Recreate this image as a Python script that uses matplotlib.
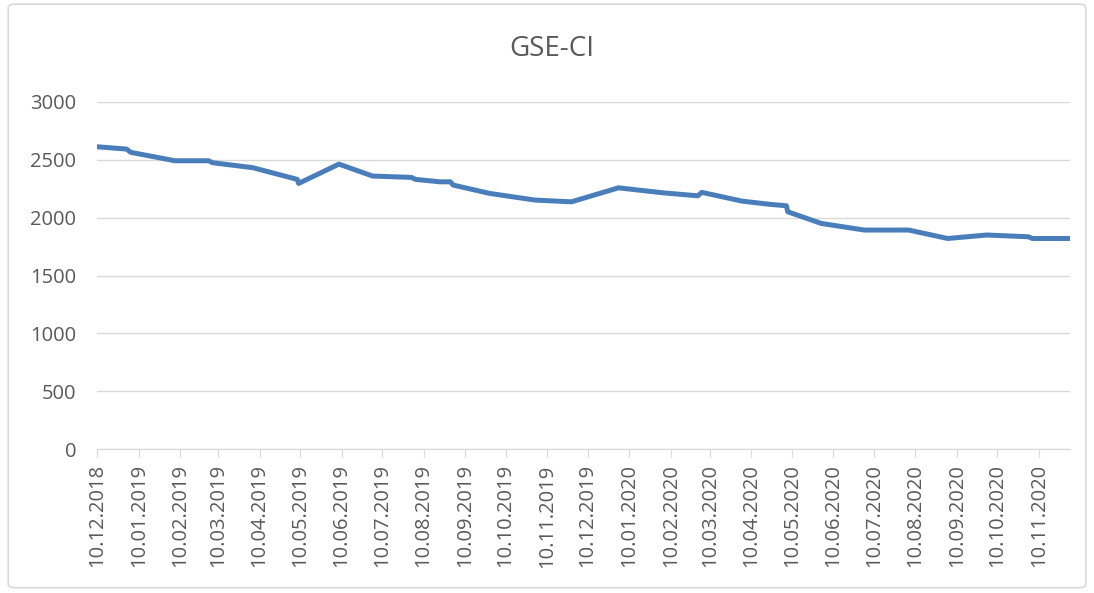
import pandas as pd
import matplotlib.pyplot as plt
import matplotlib.dates as mdates
from matplotlib.patches import FancyBboxPatch

# GSE-CI index values
dates = ['2018-12-10', '2019-01-01', '2019-01-04', '2019-02-06', '2019-03-03',
         '2019-03-06', '2019-04-05', '2019-05-08', '2019-05-09', '2019-06-08',
         '2019-07-03', '2019-08-01', '2019-08-04', '2019-08-22', '2019-08-30',
         '2019-09-01', '2019-09-28', '2019-11-01', '2019-11-28', '2020-01-02',
         '2020-02-04', '2020-03-01', '2020-03-04', '2020-04-03', '2020-04-24',
         '2020-05-06', '2020-05-07', '2020-06-01', '2020-07-03', '2020-08-05',
         '2020-09-03', '2020-10-02', '2020-11-02', '2020-11-05', '2020-12-03']
values = [2613, 2593, 2565, 2492, 2492,
          2475, 2432, 2331, 2296, 2463,
          2360, 2348, 2331, 2310, 2310,
          2282, 2210, 2152, 2137, 2258,
          2215, 2189, 2219, 2143, 2115,
          2103, 2051, 1950, 1893, 1893,
          1820, 1850, 1835, 1820, 1820]
y_ticks = [0, 500, 1000, 1500, 2000, 2500, 3000]

df = pd.DataFrame({'date': pd.to_datetime(dates), 'value': values})

plt.rcParams['font.family'] = ['Open Sans', 'DejaVu Sans']
text_color = '#595959'
grid_color = '#d9d9d9'

fig = plt.figure(figsize=(10.94, 5.93), dpi=100)
ax = fig.add_axes([0.0887, 0.2428, 0.978 - 0.0887, 0.828 - 0.2428])

ax.plot(df['date'], df['value'], color='#4a7ebb', linewidth=3.6,
        solid_capstyle='round', solid_joinstyle='round')

ax.set_ylim(0, 3000)
ax.set_yticks(y_ticks)
ax.set_xlim(pd.Timestamp('2018-12-10'), pd.Timestamp('2020-12-03'))
ax.xaxis.set_major_locator(mdates.MonthLocator(bymonthday=10))
ax.xaxis.set_major_formatter(mdates.DateFormatter('%d.%m.%Y'))

ax.grid(axis='y', color=grid_color, linewidth=1)
ax.set_axisbelow(True)
for side in ['top', 'right', 'left']:
    ax.spines[side].set_visible(False)
ax.spines['bottom'].set_color(grid_color)
ax.tick_params(axis='y', length=0, pad=15, labelsize=14.5, labelcolor=text_color)
ax.tick_params(axis='x', length=6, color=grid_color, pad=5, labelsize=14.5,
               labelcolor=text_color, labelrotation=90)

fig.text(0.504, 0.918, 'GSE-CI', ha='center', va='center', fontsize=20,
         color=text_color)

# chart-area border
fig.patches.append(FancyBboxPatch((0.0075, 0.009), 0.985, 0.984,
                                  boxstyle='round,pad=0,rounding_size=0.006',
                                  transform=fig.transFigure, facecolor='none',
                                  edgecolor=grid_color, linewidth=1.2))

plt.savefig('out.png', dpi=100)
